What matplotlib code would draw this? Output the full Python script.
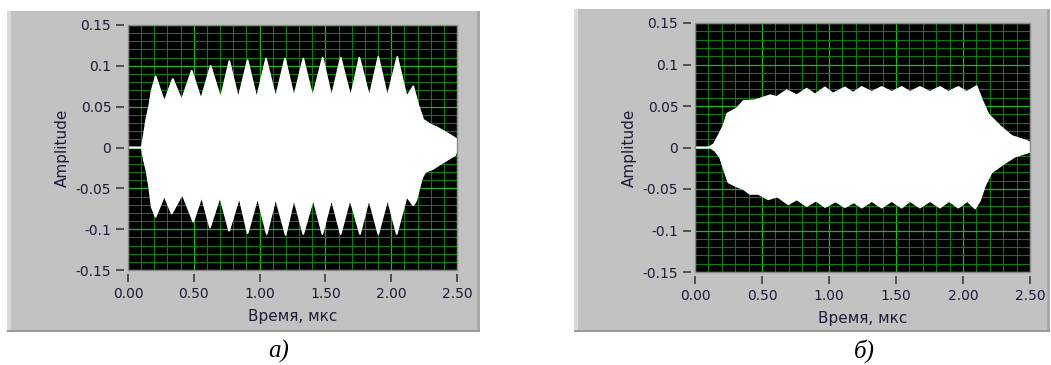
import matplotlib
matplotlib.use("Agg")
import matplotlib.pyplot as plt
from matplotlib.patches import Rectangle
from matplotlib.ticker import MultipleLocator, FixedLocator

# ---------------- data (envelope vertices) ----------------
# panel a)
xu_a = [0.0, 0.104, 0.12, 0.14, 0.16, 0.18, 0.21, 0.276, 0.34, 0.408, 0.484, 0.555,
        0.628, 0.704, 0.770, 0.838, 0.909, 0.978, 1.049, 1.122, 1.193, 1.261, 1.332,
        1.403, 1.479, 1.547, 1.616, 1.692, 1.758, 1.834, 1.902, 1.971, 2.046, 2.118,
        2.168, 2.206, 2.244, 2.30, 2.345, 2.41, 2.472, 2.5]
yu_a = [0.0, 0.0, 0.015, 0.036, 0.050, 0.070, 0.087, 0.056, 0.084, 0.058, 0.094, 0.059,
        0.100, 0.060, 0.106, 0.060, 0.107, 0.060, 0.109, 0.061, 0.109, 0.062, 0.109,
        0.062, 0.110, 0.062, 0.110, 0.062, 0.110, 0.062, 0.111, 0.062, 0.111, 0.062,
        0.075, 0.052, 0.034, 0.028, 0.025, 0.019, 0.013, 0.010]
xl_a = [0.0, 0.104, 0.12, 0.14, 0.16, 0.18, 0.21, 0.276, 0.332, 0.413, 0.496, 0.56,
        0.623, 0.699, 0.768, 0.846, 0.909, 0.985, 1.054, 1.122, 1.198, 1.261, 1.332,
        1.408, 1.477, 1.547, 1.616, 1.687, 1.763, 1.831, 1.902, 1.973, 2.042, 2.118,
        2.168, 2.19, 2.235, 2.26, 2.32, 2.397, 2.486, 2.5]
yl_a = [0.0, 0.0, -0.015, -0.028, -0.048, -0.073, -0.085, -0.059, -0.081, -0.057, -0.091, -0.060,
        -0.098, -0.060, -0.102, -0.061, -0.105, -0.061, -0.106, -0.062, -0.107, -0.063, -0.106,
        -0.063, -0.106, -0.063, -0.106, -0.063, -0.106, -0.063, -0.106, -0.063, -0.106, -0.060,
        -0.071, -0.065, -0.037, -0.030, -0.026, -0.018, -0.0095, -0.003]

# panel б)
xu_b = [0.0, 0.099, 0.14, 0.174, 0.211, 0.241, 0.311, 0.361, 0.448, 0.56, 0.61, 0.684,
        0.759, 0.833, 0.896, 0.97, 1.03, 1.119, 1.18, 1.244, 1.319, 1.393, 1.468, 1.543,
        1.604, 1.679, 1.754, 1.828, 1.89, 1.965, 2.027, 2.102, 2.14, 2.19, 2.276, 2.363,
        2.475, 2.5]
yu_b = [0.0, 0.0, 0.004, 0.014, 0.026, 0.041, 0.047, 0.056, 0.057, 0.063, 0.061, 0.069,
        0.063, 0.071, 0.064, 0.0725, 0.065, 0.0725, 0.066, 0.073, 0.067, 0.073, 0.067, 0.073,
        0.067, 0.073, 0.067, 0.073, 0.067, 0.073, 0.067, 0.074, 0.058, 0.040, 0.026, 0.014,
        0.008, 0.006]
xl_b = [0.0, 0.112, 0.15, 0.187, 0.211, 0.249, 0.311, 0.361, 0.41, 0.473, 0.547, 0.614,
        0.696, 0.759, 0.833, 0.903, 0.97, 1.05, 1.119, 1.187, 1.244, 1.319, 1.393, 1.468,
        1.543, 1.604, 1.679, 1.754, 1.828, 1.896, 1.965, 2.032, 2.09, 2.127, 2.164, 2.214,
        2.301, 2.388, 2.487, 2.5]
yl_b = [0.0, 0.0, -0.004, -0.012, -0.024, -0.042, -0.047, -0.050, -0.056, -0.056, -0.0625, -0.059,
        -0.0685, -0.0625, -0.0706, -0.064, -0.0718, -0.065, -0.072, -0.066, -0.0725, -0.0645,
        -0.0725, -0.0645, -0.0725, -0.0645, -0.0725, -0.0645, -0.0725, -0.0645, -0.0725, -0.0645,
        -0.0735, -0.064, -0.046, -0.030, -0.020, -0.011, -0.006, -0.005]

x_ticks = [0.0, 0.5, 1.0, 1.5, 2.0, 2.5]
x_ticklabels = ["0.00", "0.50", "1.00", "1.50", "2.00", "2.50"]
y_ticks = [-0.15, -0.1, -0.05, 0.0, 0.05, 0.1, 0.15]
y_ticklabels = ["-0.15", "-0.1", "-0.05", "0", "0.05", "0.1", "0.15"]
xlabel = "Время, мкс"
ylabel = "Amplitude"
captions = ["а)", "б)"]

# ---------------- layout ----------------
W, H = 1051, 365
fig = plt.figure(figsize=(W / 100, H / 100), dpi=100)
fig.patch.set_facecolor("white")

TXT = "#1c1c38"
PANEL = "#c2c2c2"


def px_rect(x0, y0, x1, y1):
    return [x0 / W, 1 - y1 / H, (x1 - x0) / W, (y1 - y0) / H]


def panel(x0, y0, x1, y1):
    l, b, w, h = px_rect(x0, y0, x1, y1)
    parts = [((l, b), w, h, PANEL),
             ((l, b), 4 / W, h, "#dadada"),
             ((l + w - 3 / W, b), 3 / W, h, "#a9a9a9"),
             ((l, b), w, 2 / H, "#9a9a9a")]
    for xy, ww, hh, c in parts:
        fig.patches.append(Rectangle(xy, ww, hh, transform=fig.transFigure,
                                     facecolor=c, edgecolor="none", zorder=-10))


def chart(rect, xu, yu, xl, yl, cap_xy, cap):
    ax = fig.add_axes(rect, zorder=5)
    ax.set_facecolor("black")
    ax.set_xlim(0, 2.5)
    ax.set_ylim(-0.15, 0.15)
    ax.xaxis.set_major_locator(FixedLocator(x_ticks))
    ax.yaxis.set_major_locator(FixedLocator(y_ticks))
    ax.xaxis.set_minor_locator(MultipleLocator(0.1))
    ax.yaxis.set_minor_locator(MultipleLocator(0.01))
    ax.grid(which="minor", color="#0f7a0f", lw=0.8, zorder=1)
    ax.grid(which="major", color="#22b422", lw=0.9, zorder=1)
    ax.set_axisbelow(True)

    xs = list(xu) + list(xl)[::-1]
    ys = list(yu) + list(yl)[::-1]
    ax.fill(xs, ys, color="white", lw=0, zorder=3)
    ax.plot(xu, yu, color="white", lw=1.2, zorder=3)
    ax.plot(xl, yl, color="white", lw=1.2, zorder=3)

    for s in ["left", "bottom"]:
        ax.spines[s].set_position(("outward", 3))
        ax.spines[s].set_visible(False)
    for s in ["top", "right"]:
        ax.spines[s].set_visible(False)
    ax.add_patch(Rectangle((0, 0), 1, 1, transform=ax.transAxes, fill=False,
                           edgecolor="#8a8a8a", lw=1.0, zorder=5, clip_on=False))

    ax.set_xticklabels(x_ticklabels)
    ax.set_yticklabels(y_ticklabels)
    ax.tick_params(which="major", direction="out", length=6, width=1.1, color="#303030",
                   labelcolor=TXT, labelsize=10, pad=3)
    ax.tick_params(which="minor", length=0)
    ax.set_xlabel(xlabel, color=TXT, fontsize=11, labelpad=6)
    ax.set_ylabel(ylabel, color=TXT, fontsize=11, labelpad=4)
    fig.text(cap_xy[0] / W, 1 - cap_xy[1] / H, cap, ha="center", va="center",
             fontsize=18, style="italic", family="Liberation Serif", color="black")
    return ax


panel(7, 11, 480, 332)
panel(574, 9, 1050, 332)

chart(px_rect(128, 25, 457, 270), xu_a, yu_a, xl_a, yl_a, (279, 351), captions[0])
chart(px_rect(695, 23, 1030, 272), xu_b, yu_b, xl_b, yl_b, (864, 351), captions[1])

fig.savefig("out.png", dpi=100, facecolor="white")
